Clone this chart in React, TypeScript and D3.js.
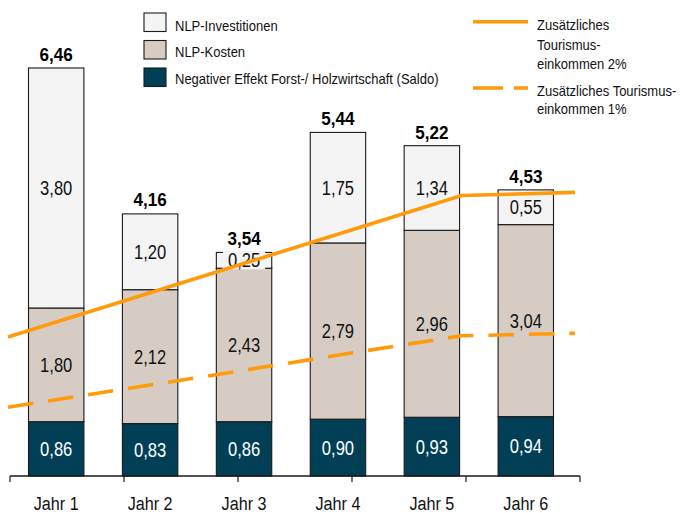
import React from "react";
import * as d3 from "d3";

const categories = ["Jahr 1", "Jahr 2", "Jahr 3", "Jahr 4", "Jahr 5", "Jahr 6"];
const saldo = [0.86, 0.83, 0.86, 0.9, 0.93, 0.94];
const kosten = [1.8, 2.12, 2.43, 2.79, 2.96, 3.04];
const invest = [3.8, 1.2, 0.25, 1.75, 1.34, 0.55];
const totals = [6.46, 4.16, 3.54, 5.44, 5.22, 4.53];
const tourism2 = [2.2, 2.76, 3.32, 3.88, 4.44, 4.49];
const tourism1 = [1.09, 1.37, 1.65, 1.94, 2.22, 2.26];

const seriesKeys = ["saldo", "kosten", "invest"];
const seriesNames = [
  "NLP-Investitionen",
  "NLP-Kosten",
  "Negativer Effekt Forst-/ Holzwirtschaft (Saldo)",
];
const lineNames2 = ["Zusätzliches", "Tourismus-", "einkommen 2%"];
const lineNames1 = ["Zusätzliches Tourismus-", "einkommen 1%"];

const W = 682;
const H = 513;
const FONT = "'Liberation Sans', Arial, Helvetica, sans-serif";
const ORANGE = "#FF9A0A";
const fills: Record<string, string> = {
  saldo: "#003F56",
  kosten: "#D6CCC4",
  invest: "#F4F4F4",
};
const textFill: Record<string, string> = {
  saldo: "#FFFFFF",
  kosten: "#111111",
  invest: "#111111",
};

const fmt = (v: number) => d3.format(".2f")(v).replace(".", ",");

function STxt(props: {
  x: number;
  y: number;
  sx: number;
  size: number;
  anchor?: string;
  weight?: string;
  fill?: string;
  children: React.ReactNode;
}) {
  const { x, y, sx, size, anchor = "middle", weight = "normal", fill = "#111" } = props;
  return (
    <text
      transform={`translate(${x},${y}) scale(${sx},1)`}
      textAnchor={anchor}
      fontSize={size}
      fontWeight={weight}
      fill={fill}
      fontFamily={FONT}
    >
      {props.children}
    </text>
  );
}

export default function App() {
  const baseY = 476;
  const y = d3.scaleLinear().domain([0, 7]).range([baseY, baseY - 7 * 63.16]);
  const x = d3
    .scaleBand<string>()
    .domain(categories)
    .range([28.5, 553.5])
    .paddingInner(0.41)
    .paddingOuter(0);
  const xLine = d3.scalePoint<string>().domain(categories).range([8, 575]);
  const xTick = d3.scalePoint<string>().domain(categories).range([10, 580]);

  const rows = categories.map((c, i) => ({
    cat: c,
    saldo: saldo[i],
    kosten: kosten[i],
    invest: invest[i],
  }));
  const stacked = d3.stack<any>().keys(seriesKeys)(rows);

  const line = d3
    .line<number>()
    .x((_, i) => xLine(categories[i]) as number)
    .y((d) => y(d));

  const bw = x.bandwidth();

  return (
    <svg
      width={W}
      height={H}
      style={{ position: "absolute", left: 0, top: 0, background: "#fff" }}
    >
      {/* bars */}
      {stacked.map((s) => (
        <g key={s.key}>
          {s.map((d, i) => (
            <rect
              key={i}
              x={x(categories[i])}
              y={y(d[1])}
              width={bw}
              height={y(d[0]) - y(d[1])}
              fill={fills[s.key]}
              stroke="#1a1a1a"
              strokeWidth={1.1}
            />
          ))}
        </g>
      ))}
      {/* segment labels */}
      {stacked.map((s) => (
        <g key={"l" + s.key}>
          {s.map((d, i) => {
            const cx = (x(categories[i]) as number) + bw / 2;
            const cy = (y(d[0]) + y(d[1])) / 2;
            const v = d[1] - d[0];
            return (
              <g key={i}>
                {s.key === "invest" && (
                  <rect x={cx - 21} y={cy - 9.5} width={42} height={18.5} fill={fills.invest} />
                )}
                <STxt x={cx} y={cy + 7} sx={0.85} size={19.5} fill={textFill[s.key]}>
                  {fmt(v)}
                </STxt>
              </g>
            );
          })}
        </g>
      ))}
      {/* totals */}
      {totals.map((t, i) => (
        <STxt
          key={i}
          x={(x(categories[i]) as number) + bw / 2}
          y={y(t) - 7}
          sx={0.95}
          size={18}
          weight="bold"
          fill="#000"
        >
          {fmt(t)}
        </STxt>
      ))}
      {/* lines */}
      <path d={line(tourism2) || ""} fill="none" stroke={ORANGE} strokeWidth={3.6} />
      <path
        d={line(tourism1) || ""}
        fill="none"
        stroke={ORANGE}
        strokeWidth={3.6}
        strokeDasharray="25.5,15"
      />
      {/* axis */}
      <line
        x1={xTick(categories[0])}
        x2={xTick(categories[categories.length - 1])}
        y1={baseY}
        y2={baseY}
        stroke="#1a1a1a"
        strokeWidth={1.5}
      />
      {categories.map((c) => (
        <line
          key={"t" + c}
          x1={xTick(c)}
          x2={xTick(c)}
          y1={baseY}
          y2={baseY + 6}
          stroke="#1a1a1a"
          strokeWidth={1.2}
        />
      ))}
      {categories.map((c) => (
        <STxt key={"a" + c} x={(x(c) as number) + bw / 2} y={510} sx={0.85} size={19}>
          {c}
        </STxt>
      ))}
      {/* left legend */}
      {["invest", "kosten", "saldo"].map((k, i) => (
        <g key={"lg" + k}>
          <rect
            x={144}
            y={13 + i * 27.5}
            width={22}
            height={18.5}
            fill={fills[k]}
            stroke="#1a1a1a"
            strokeWidth={1.1}
          />
          <STxt x={175} y={30.5 + i * 26.5} sx={0.93} size={14} anchor="start">
            {seriesNames[i]}
          </STxt>
        </g>
      ))}
      {/* right legend */}
      <line x1={473} x2={528} y1={21.7} y2={21.7} stroke={ORANGE} strokeWidth={3.6} />
      {lineNames2.map((t, i) => (
        <STxt key={"r2" + i} x={537} y={30 + i * 19.5} sx={0.93} size={14} anchor="start">
          {t}
        </STxt>
      ))}
      <line
        x1={473}
        x2={528}
        y1={88}
        y2={88}
        stroke={ORANGE}
        strokeWidth={3.6}
        strokeDasharray="30,11"
      />
      {lineNames1.map((t, i) => (
        <STxt key={"r1" + i} x={537} y={95.5 + i * 18.5} sx={0.93} size={14} anchor="start">
          {t}
        </STxt>
      ))}
    </svg>
  );
}
